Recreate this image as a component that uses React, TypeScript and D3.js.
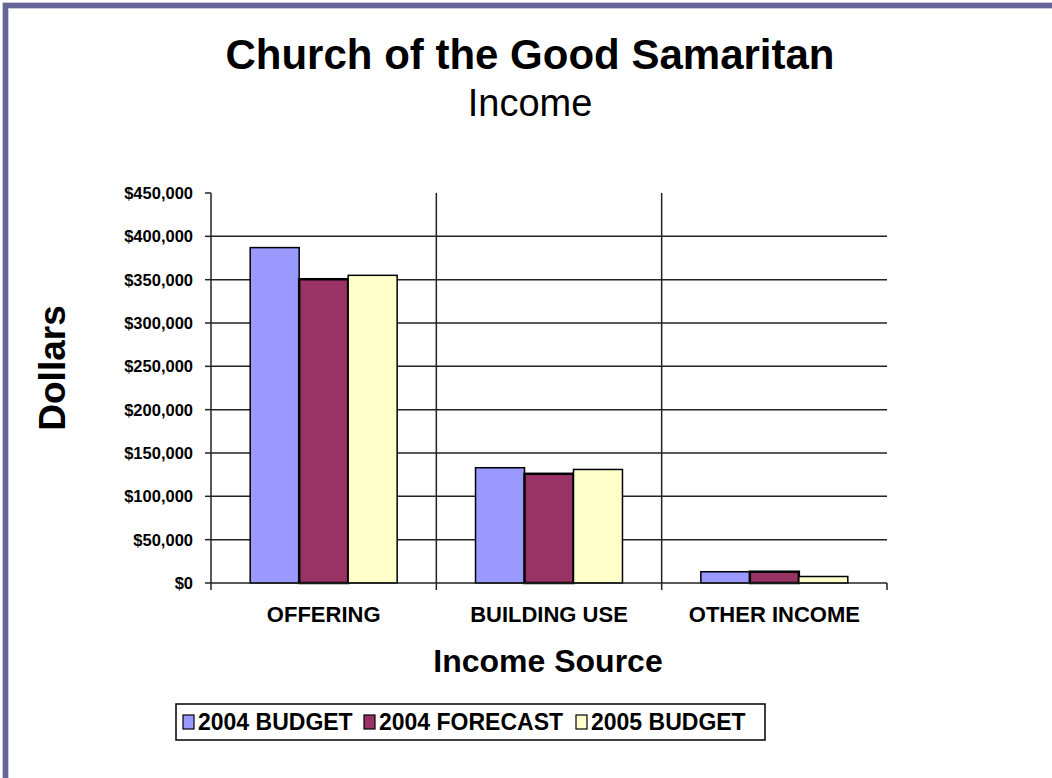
import React from "react";
import * as d3 from "d3";

const categories = ["OFFERING", "BUILDING USE", "OTHER INCOME"];
const seriesNames = ["2004 BUDGET", "2004 FORECAST", "2005 BUDGET"];
const budget2004 = [387000, 133000, 13000];
const forecast2004 = [350500, 126000, 13000];
const budget2005 = [355000, 131000, 7500];
const seriesColors = ["#9999ff", "#993366", "#ffffcc"];
const yTicks = [0, 50000, 100000, 150000, 200000, 250000, 300000, 350000, 400000, 450000];

const W = 1052;
const H = 778;
const plot = { left: 211, right: 887, top: 193, bottom: 583 };
const FONT = "'Liberation Sans', Arial, sans-serif";

export default function App() {
  const series = [budget2004, forecast2004, budget2005];
  const y = d3.scaleLinear().domain([0, 450000]).range([plot.bottom, plot.top]);
  const x0 = d3.scaleBand().domain(categories).range([plot.left, plot.right]).paddingInner(0).paddingOuter(0);
  const bw = x0.bandwidth() / 4.6;
  const x1 = d3.scaleBand().domain(seriesNames).range([bw * 0.8, bw * 3.8]).padding(0);
  const fmt = (v: number) => "$" + d3.format(",")(v);

  const legendItems = [
    { name: seriesNames[0], sx: 183, tx: 198 },
    { name: seriesNames[1], sx: 364, tx: 379 },
    { name: seriesNames[2], sx: 576, tx: 591 },
  ];

  return (
    <svg width={W} height={H} style={{ position: "absolute", left: 0, top: 0, background: "#fff" }} fontFamily={FONT}>
      <rect x={0} y={0} width={W} height={H} fill="#fff" />
      {/* frame */}
      <path d={`M5.5,${H + 10} V5.5 H${W + 10}`} fill="none" stroke="#c8c8e0" strokeWidth={7} />
      <path d={`M5.5,${H + 10} V5.5 H${W + 10}`} fill="none" stroke="#666699" strokeWidth={5} />

      {/* titles */}
      <text x={530} y={69} textAnchor="middle" fontSize={42} fontWeight="bold">Church of the Good Samaritan</text>
      <text x={530} y={116} textAnchor="middle" fontSize={38}>Income</text>

      {/* gridlines */}
      {yTicks.filter((t) => t > 0 && t < 450000).map((t) => (
        <line key={t} x1={plot.left} x2={plot.right} y1={y(t)} y2={y(t)} stroke="#222" strokeWidth={1.5} />
      ))}
      {/* category separators */}
      {categories.slice(1).map((c) => (
        <line key={c} x1={x0(c)} x2={x0(c)} y1={plot.top} y2={plot.bottom + 7} stroke="#222" strokeWidth={1.5} />
      ))}
      <line x1={plot.right} x2={plot.right} y1={plot.bottom} y2={plot.bottom + 7} stroke="#222" strokeWidth={1.5} />

      {/* bars */}
      {categories.map((c, ci) => (
        <g key={c} transform={`translate(${x0(c)},0)`}>
          {series.map((s, si) => (
            <rect
              key={si}
              x={x1(seriesNames[si])}
              y={y(s[ci])}
              width={x1.bandwidth()}
              height={plot.bottom - y(s[ci])}
              fill={seriesColors[si]}
              stroke="#000"
              strokeWidth={si === 1 ? 2.5 : 1.5}
            />
          ))}
        </g>
      ))}

      {/* axes */}
      <line x1={plot.left} x2={plot.left} y1={plot.top} y2={plot.bottom + 7} stroke="#222" strokeWidth={1.5} />
      <line x1={plot.left} x2={plot.right} y1={plot.bottom} y2={plot.bottom} stroke="#222" strokeWidth={1.5} />
      {yTicks.map((t) => (
        <g key={t}>
          <line x1={plot.left - 6} x2={plot.left} y1={y(t)} y2={y(t)} stroke="#222" strokeWidth={1.5} />
          <text x={193} y={y(t) + 6} textAnchor="end" fontSize={16.5} fontWeight="bold">{fmt(t)}</text>
        </g>
      ))}
      {categories.map((c) => (
        <text key={c} x={(x0(c) as number) + x0.bandwidth() / 2} y={622} textAnchor="middle" fontSize={22} fontWeight="bold">{c}</text>
      ))}

      <text x={548} y={672} textAnchor="middle" fontSize={32} fontWeight="bold">Income Source</text>
      <text transform="translate(65,368) rotate(-90)" textAnchor="middle" fontSize={37} fontWeight="bold">Dollars</text>

      {/* legend */}
      <rect x={176} y={704} width={589} height={36} fill="#fff" stroke="#000" strokeWidth={1.5} />
      {legendItems.map((it, i) => (
        <g key={it.name}>
          <rect x={it.sx} y={715} width={11} height={14} fill={seriesColors[i]} stroke="#000" strokeWidth={1.2} />
          <text x={it.tx} y={730} fontSize={23} fontWeight="bold">{it.name}</text>
        </g>
      ))}
    </svg>
  );
}
